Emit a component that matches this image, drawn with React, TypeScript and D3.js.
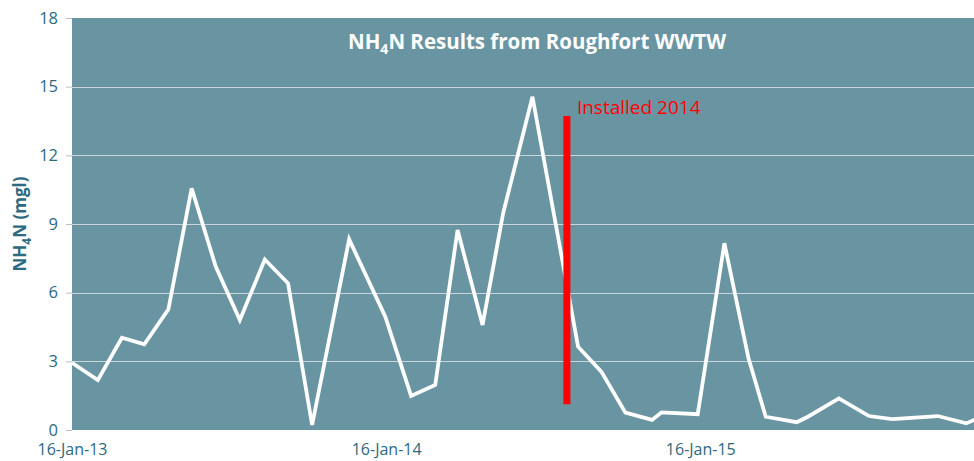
import React, { useRef, useEffect } from 'react';
import * as d3 from 'd3';

const sampleDates = [
  '2013-01-16', '2013-02-15', '2013-03-15', '2013-04-10', '2013-05-08', '2013-06-04',
  '2013-07-02', '2013-07-30', '2013-08-28', '2013-09-24', '2013-10-22', '2013-12-04',
  '2014-01-15', '2014-02-14', '2014-03-14', '2014-04-09', '2014-05-08', '2014-06-01',
  '2014-07-05', '2014-08-27', '2014-09-23', '2014-10-21', '2014-11-21', '2014-12-02',
  '2015-01-13', '2015-02-13', '2015-03-13', '2015-04-02', '2015-05-08', '2015-05-21',
  '2015-06-26', '2015-07-31', '2015-08-27', '2015-10-19', '2015-11-21', '2015-12-10',
];
const nh4nValues = [
  2.94, 2.18, 4.03, 3.74, 5.27, 10.56,
  7.14, 4.8, 7.45, 6.41, 0.22, 8.33,
  4.95, 1.49, 1.97, 8.74, 4.59, 9.48,
  14.56, 3.64, 2.55, 0.76, 0.44, 0.77,
  0.69, 8.16, 3.13, 0.58, 0.34, 0.58,
  1.38, 0.61, 0.48, 0.61, 0.29, 0.6,
];
const yTicks = [0, 3, 6, 9, 12, 15, 18];
const xTickDates = ['2013-01-16', '2014-01-16', '2015-01-16'];
const installDate = '2014-08-14';
const installRange = [1.13, 13.72];
const installLabel = 'Installed 2014';

const width = 974;
const height = 461;
const margin = { top: 18, right: 0, bottom: 31, left: 72 };
const bg = '#6995a3';
const textColor = '#2c6a7f';

export default function App() {
  const svgRef = useRef<SVGSVGElement>(null);

  useEffect(() => {
    const svg = d3.select(svgRef.current);
    svg.selectAll('*').remove();
    const parse = d3.timeParse('%Y-%m-%d');
    const data = sampleDates.map((d, i) => ({ date: parse(d) as Date, value: nh4nValues[i] }));

    const innerW = width - margin.left - margin.right;
    const innerH = height - margin.top - margin.bottom;

    const x = d3
      .scaleTime()
      .domain([parse('2013-01-16') as Date, parse('2015-11-30') as Date])
      .range([0, innerW]);
    const y = d3.scaleLinear().domain([0, 18]).range([innerH, 0]);

    svg.append('defs').append('clipPath').attr('id', 'plotclip')
      .append('rect').attr('width', innerW).attr('height', innerH);

    const g = svg.append('g').attr('transform', `translate(${margin.left},${margin.top})`);

    g.append('rect').attr('width', innerW).attr('height', innerH).attr('fill', bg);

    // gridlines
    g.selectAll('.grid')
      .data(yTicks.filter((t) => t > 0 && t < 18))
      .join('line')
      .attr('x1', 0)
      .attr('x2', innerW)
      .attr('y1', (d) => Math.round(y(d)) + 0.5)
      .attr('y2', (d) => Math.round(y(d)) + 0.5)
      .attr('stroke', '#c9d7dc')
      .attr('stroke-width', 1);

    // y axis
    const yAxis = d3.axisLeft(y).tickValues(yTicks).tickSize(6).tickPadding(8);
    const ya = g.append('g').call(yAxis);
    ya.select('.domain').remove();
    ya.selectAll('.tick line').attr('stroke', '#bfbfbf');
    ya.selectAll('.tick text')
      .attr('fill', textColor)
      .style('font-family', '"Open Sans", sans-serif')
      .style('font-size', '16.5px');

    // x axis
    const xAxis = d3
      .axisBottom(x)
      .tickValues(xTickDates.map((d) => parse(d) as Date))
      .tickFormat((d) => d3.timeFormat('%d-%b-%y')(d as Date))
      .tickSize(0)
      .tickPadding(14);
    const xa = g.append('g').attr('transform', `translate(0,${innerH})`).call(xAxis);
    xa.select('.domain').remove();
    xa.selectAll('.tick text')
      .attr('fill', textColor)
      .style('font-family', '"Open Sans", sans-serif')
      .style('font-size', '16px');

    // series line
    const lineGen = d3
      .line<{ date: Date; value: number }>()
      .x((d) => x(d.date))
      .y((d) => y(d.value));
    g.append('path')
      .datum(data)
      .attr('clip-path', 'url(#plotclip)')
      .attr('d', lineGen)
      .attr('fill', 'none')
      .attr('stroke', '#ffffff')
      .attr('stroke-width', 3.75)
      .attr('stroke-linejoin', 'miter');

    // installation marker
    const ix = x(parse(installDate) as Date);
    g.append('line')
      .attr('x1', ix)
      .attr('x2', ix)
      .attr('y1', y(installRange[0]))
      .attr('y2', y(installRange[1]))
      .attr('stroke', '#ff0000')
      .attr('stroke-width', 7);
    g.append('text')
      .attr('x', ix + 10)
      .attr('y', y(installRange[1]) - 2)
      .attr('fill', '#ff0000')
      .style('font-family', '"Open Sans", sans-serif')
      .style('font-size', '19px')
      .text(installLabel);

    // title
    const title = g.append('text')
      .attr('x', 537 - margin.left)
      .attr('y', 31)
      .attr('text-anchor', 'middle')
      .attr('fill', '#ffffff')
      .style('font-family', '"Open Sans", sans-serif')
      .style('font-size', '20.5px')
      .style('font-weight', 'bold');
    title.append('tspan').text('NH');
    title.append('tspan').attr('dy', 5).style('font-size', '14px').text('4');
    title.append('tspan').attr('dy', -5).text('N Results from Roughfort WWTW');

    // y label
    const yl = svg.append('text')
      .attr('transform', `translate(26,${margin.top + innerH / 2}) rotate(-90)`)
      .attr('text-anchor', 'middle')
      .attr('fill', textColor)
      .style('font-family', '"Open Sans", sans-serif')
      .style('font-size', '17px')
      .style('font-weight', 'bold');
    yl.append('tspan').text('NH');
    yl.append('tspan').attr('dy', 5).style('font-size', '12px').text('4');
    yl.append('tspan').attr('dy', -5).text('N (mgl)');
  }, []);

  return (
    <svg
      ref={svgRef}
      width={width}
      height={height}
      style={{ position: 'absolute', left: 0, top: 0, background: '#ffffff' }}
    />
  );
}
